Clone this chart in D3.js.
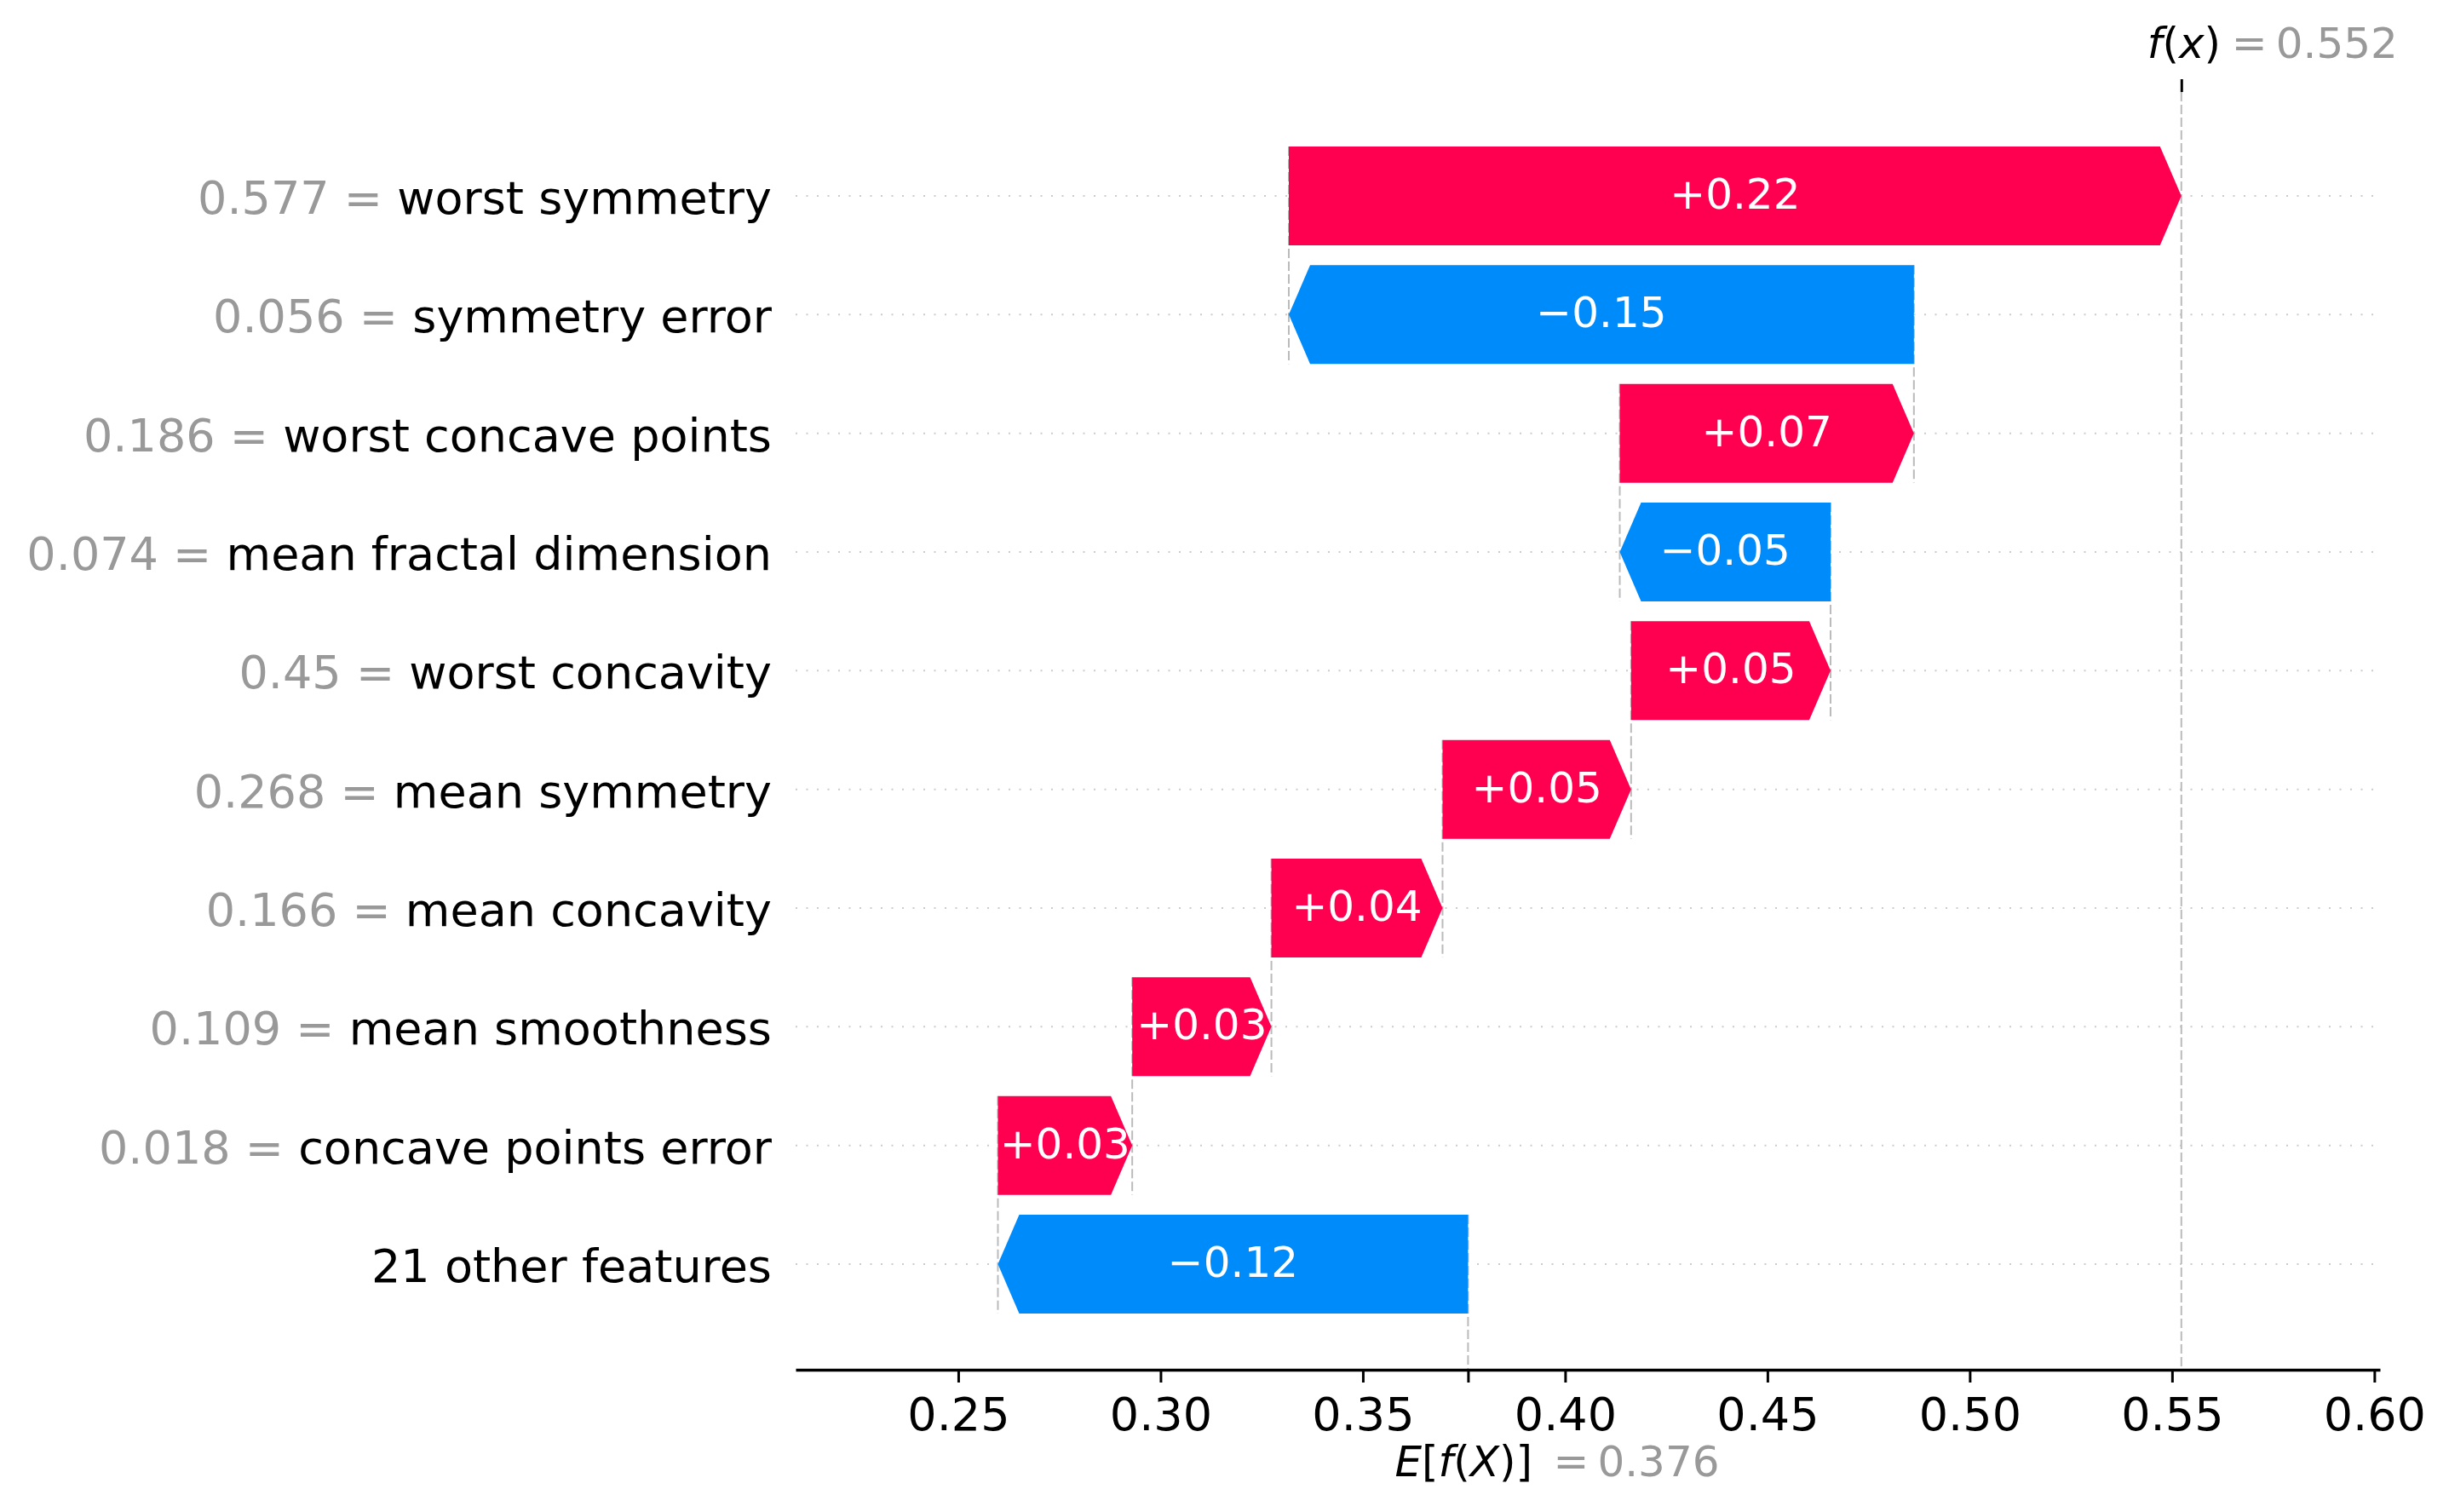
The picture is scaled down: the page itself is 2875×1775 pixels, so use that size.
<!DOCTYPE html>
<html><head><meta charset="utf-8">
<script src="https://cdn.jsdelivr.net/npm/d3@7"></script>
<style>html,body{margin:0;padding:0;background:#fff;} svg{display:block;font-family:"DejaVu Sans";} text{white-space:pre;}</style>
</head><body>
<svg id="chart" width="2875" height="1775"></svg>
<script>
// ---- data (top row first) ----
const features = ["worst symmetry","symmetry error","worst concave points","mean fractal dimension","worst concavity","mean symmetry","mean concavity","mean smoothness","concave points error","21 other features"];
const featureValues = ["0.577","0.056","0.186","0.074","0.45","0.268","0.166","0.109","0.018",""];
const shapValues = [0.2206,-0.1545,0.0727,-0.0521,0.0493,0.0466,0.0423,0.0344,0.0332,-0.1162];
const baseValue = 0.376;
const xTicks = [0.25,0.30,0.35,0.40,0.45,0.50,0.55,0.60];
const xDomain = [0.2098, 0.6014];

// ---- cumulative positions (waterfall from bottom up) ----
const n = features.length;
const starts = new Array(n), ends = new Array(n);
let cum = baseValue;
for (let i = n - 1; i >= 0; i--) { starts[i] = cum; cum += shapValues[i]; ends[i] = cum; }
const fx = cum;

// ---- layout ----
const plotLeft = 934, plotRight = 2794, plotTop = 108, plotBottom = 1608;
const RED = "#ff0051", BLUE = "#008bfb";
const barH = 116, headLen = 25;

const svg = d3.select("#chart");
svg.append("rect").attr("width",2875).attr("height",1775).attr("fill","#fff");

const x = d3.scaleLinear().domain(xDomain).range([plotLeft, plotRight]);
const y = d3.scalePoint().domain(d3.range(n)).range([230, 1484]);

// dotted horizontal guides
svg.append("g").selectAll("line").data(d3.range(n)).join("line")
  .attr("x1", plotLeft).attr("x2", plotRight)
  .attr("y1", i => y(i)).attr("y2", i => y(i))
  .attr("stroke", "#cccccc").attr("stroke-width", 2).attr("stroke-dasharray", "2 10.5");

// dashed connectors
const gDash = svg.append("g");
gDash.selectAll("line.conn").data(d3.range(n)).join("line").attr("class","conn")
  .attr("x1", i => x(starts[i])).attr("x2", i => x(starts[i]))
  .attr("y1", i => y(i) - barH/2)
  .attr("y2", i => i < n - 1 ? y(i + 1) + barH/2 : plotBottom)
  .attr("stroke", "#bbbbbb").attr("stroke-width", 2).attr("stroke-dasharray", "11 4");
gDash.append("line")
  .attr("x1", x(fx)).attr("x2", x(fx)).attr("y1", plotTop).attr("y2", plotBottom)
  .attr("stroke", "#bbbbbb").attr("stroke-width", 2).attr("stroke-dasharray", "11 4");

// bars (arrows)
function arrowPath(i) {
  const x0 = x(starts[i]), x1 = x(ends[i]), yc = y(i), t = yc - barH/2, b = yc + barH/2;
  const hl = Math.min(headLen, Math.abs(x1 - x0));
  if (shapValues[i] >= 0) {
    return `M${x0},${t}L${x1 - hl},${t}L${x1},${yc}L${x1 - hl},${b}L${x0},${b}Z`;
  } else {
    return `M${x0},${t}L${x1 + hl},${t}L${x1},${yc}L${x1 + hl},${b}L${x0},${b}Z`;
  }
}
svg.append("g").selectAll("path").data(d3.range(n)).join("path")
  .attr("d", arrowPath)
  .attr("fill", i => shapValues[i] >= 0 ? RED : BLUE);

// bar labels
const fmtShap = v => (v >= 0 ? "+" : "\u2212") + Math.abs(v).toFixed(2);
svg.append("g").selectAll("text").data(d3.range(n)).join("text")
  .attr("x", i => x((starts[i] + ends[i]) / 2))
  .attr("y", i => y(i) + 15)
  .attr("text-anchor", "middle")
  .attr("font-size", 50).attr("fill", "#fff")
  .text(i => fmtShap(shapValues[i]));

// row labels
const gLab = svg.append("g").attr("font-size", 54);
d3.range(n).forEach(i => {
  const t = gLab.append("text").attr("x", 906).attr("y", y(i) + 21).attr("text-anchor", "end");
  if (featureValues[i] !== "") t.append("tspan").attr("fill", "#999999").text(featureValues[i] + " = ");
  t.append("tspan").attr("fill", "#000").text(features[i]);
});

// bottom axis
const gx = svg.append("g").attr("transform", `translate(0,${plotBottom})`)
  .call(d3.axisBottom(x).tickValues(xTicks).tickFormat(d3.format(".2f"))
    .tickSize(15).tickSizeOuter(0).tickPadding(17.5));
gx.attr("font-size", 54).attr("font-family", "DejaVu Sans");
gx.select(".domain").attr("stroke", "#000").attr("stroke-width", 3.3);
gx.selectAll(".tick line").attr("stroke", "#000").attr("stroke-width", 3);
gx.selectAll(".tick text").attr("fill", "#000");

// base value tick
const gb = svg.append("g").attr("transform", `translate(0,${plotBottom})`)
  .call(d3.axisBottom(x).tickValues([baseValue]).tickFormat(() => "").tickSize(15).tickSizeOuter(0));
gb.select(".domain").remove();
gb.selectAll(".tick line").attr("stroke", "#000").attr("stroke-width", 3);

// top f(x) tick
const gt = svg.append("g").attr("transform", `translate(0,${plotTop})`)
  .call(d3.axisTop(x).tickValues([fx]).tickFormat(() => "").tickSize(15).tickSizeOuter(0));
gt.select(".domain").remove();
gt.selectAll(".tick line").attr("stroke", "#000").attr("stroke-width", 3);

// f(x) label
const fxX = x(fx);
const tf = svg.append("text").attr("x", fxX - 40).attr("y", 68).attr("font-size", 50).attr("fill", "#000");
tf.append("tspan").attr("font-style", "italic").text("f");
tf.append("tspan").text("(");
tf.append("tspan").attr("font-style", "italic").text("x");
tf.append("tspan").text(")");
svg.append("text").attr("x", fxX + 59).attr("y", 68).attr("font-size", 50).attr("fill", "#999999").text("=");
svg.append("text").attr("x", fxX + 111).attr("y", 68).attr("font-size", 50).attr("fill", "#999999").text(fx.toFixed(3));

// E[f(X)] label
const bX = x(baseValue);
const te = svg.append("text").attr("x", bX - 86).attr("y", 1733).attr("font-size", 50).attr("fill", "#000");
te.append("tspan").attr("font-style", "italic").text("E");
te.append("tspan").text("[");
te.append("tspan").attr("font-style", "italic").text("f");
te.append("tspan").text("(");
te.append("tspan").attr("font-style", "italic").text("X");
te.append("tspan").text(")]");
svg.append("text").attr("x", bX + 100).attr("y", 1733).attr("font-size", 50).attr("fill", "#999999").text("=");
svg.append("text").attr("x", bX + 152).attr("y", 1733).attr("font-size", 50).attr("fill", "#999999").text(baseValue.toFixed(3));
</script>
</body></html>
